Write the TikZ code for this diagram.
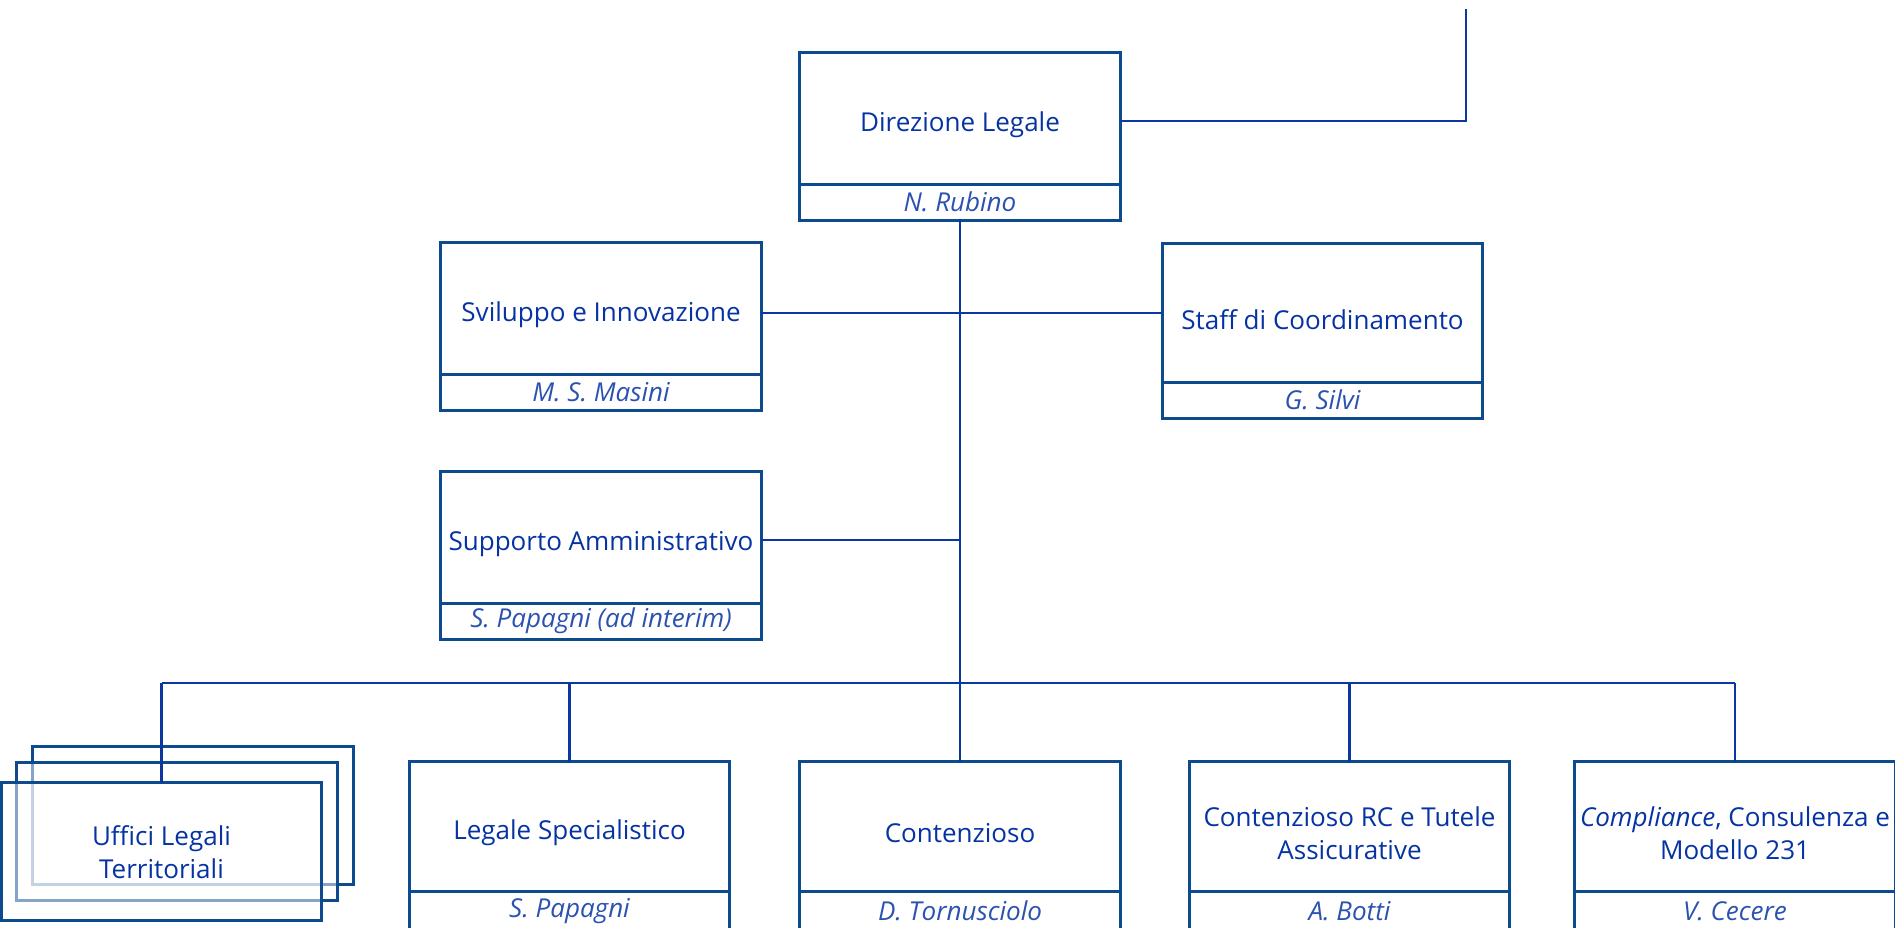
\documentclass[tikz,border=0pt]{standalone}
\usepackage{fontspec}
\setmainfont{Open Sans}
\usetikzlibrary{positioning}
\definecolor{boxblue}{HTML}{0E4B8E}
\definecolor{wireblue}{HTML}{0A37A0}
\definecolor{textblue}{HTML}{0633A3}
\definecolor{nameblue}{HTML}{2C52B0}
\tikzset{
	unit/.style={draw=boxblue, line width=0.85pt, minimum width=3.2cm, minimum height=1.31cm, inner sep=0pt, outer sep=0pt},
	unittext/.style={yshift=-0.065cm, align=center, text=textblue, text opacity=1, font=\fontsize{7.4}{9.4}\selectfont},
	namebox/.style={draw=boxblue, line width=0.85pt, minimum width=3.2cm, minimum height=0.36cm, inner sep=0pt, outer sep=0pt, text=nameblue, font=\fontsize{7.4}{9.4}\selectfont\itshape},
	stackbox/.style={unit, fill=white, fill opacity=0.5, minimum height=1.37cm},
	wire/.style={draw=wireblue, line width=0.8pt}
}

\begin{document}
\begin{tikzpicture}[x=0.01cm, y=-0.01cm]
	\useasboundingbox (0,0) rectangle (1895,927);
	% Boxes and names:
	\node[unit, label={[unittext]center:Direzione Legale}] (dir) at (960,118.5) {};
	\node[namebox, below=0pt of dir] (dirname) {N. Rubino};
	\node[unit, label={[unittext]center:Sviluppo e Innovazione}] (svil) at (601,308.5) {};
	\node[namebox, below=0pt of svil] (svilname) {M. S. Masini};
	\node[unit, minimum height=1.38cm, label={[unittext]center:Staff di Coordinamento}] (staff) at (1322.5,313) {};
	\node[namebox, below=0pt of staff] (staffname) {G. Silvi};
	\node[unit, label={[unittext]center:Supporto Amministrativo}] (supp) at (601,537.5) {};
	\node[namebox, below=0pt of supp] (suppname) {S. Papagni (ad interim)};
	\node[stackbox] (ufficiback) at (193,815.5) {};
	\node[stackbox] (ufficimid) at (177,831.5) {};
	\node[stackbox, label={[unittext, yshift=0.06cm]center:Uffici Legali\\Territoriali}] (uffici) at (161.5,851.5) {};
	\node[unit, minimum height=1.29cm, label={[unittext]center:Legale Specialistico}] (legspec) at (569.5,826.5) {};
	\node[namebox, minimum height=0.4cm, below=0pt of legspec] (legspecname) {S. Papagni};
	\node[unit, minimum height=1.29cm, label={[unittext]center:Contenzioso}] (cont) at (960,826.5) {};
	\node[namebox, minimum height=0.4cm, below=0pt of cont] (contname) {D. Tornusciolo};
	\node[unit, minimum height=1.29cm, label={[unittext]center:Contenzioso RC e Tutele\\Assicurative}] (contrc) at (1349.5,826.5) {};
	\node[namebox, minimum height=0.4cm, below=0pt of contrc] (contrcname) {A. Botti};
	\node[unit, minimum height=1.29cm, label={[unittext]center:\textit{Compliance}, Consulenza e\\Modello 231}] (compl) at (1735,826.5) {};
	\node[namebox, minimum height=0.4cm, below=0pt of compl] (complname) {V. Cecere};
	% Wires:
	\coordinate (top) at (1466,9);
	\coordinate (bus) at (960,683);
	\draw[wire] ([yshift=-0.025cm]dir.east) -| (top);
	\draw[wire] (dirname.south) -- (bus);
	\draw[wire] (staff.west -| svil.east) -- (staff.west -| bus);
	\draw[wire] (staff.west) -- (staff.west -| bus);
	\draw[wire] ([yshift=-0.025cm]supp.east) -- ([yshift=-0.025cm]supp.east -| bus);
	\draw[wire] (uffici.north |- bus) -- (compl.north |- bus);
	\draw[wire] (uffici.north |- bus) -- (uffici.north);
	\draw[wire] (legspec.north |- bus) -- (legspec.north);
	\draw[wire] (bus) -- (cont.north);
	\draw[wire] (contrc.north |- bus) -- (contrc.north);
	\draw[wire] (compl.north |- bus) -- (compl.north);
\end{tikzpicture}
\end{document}
